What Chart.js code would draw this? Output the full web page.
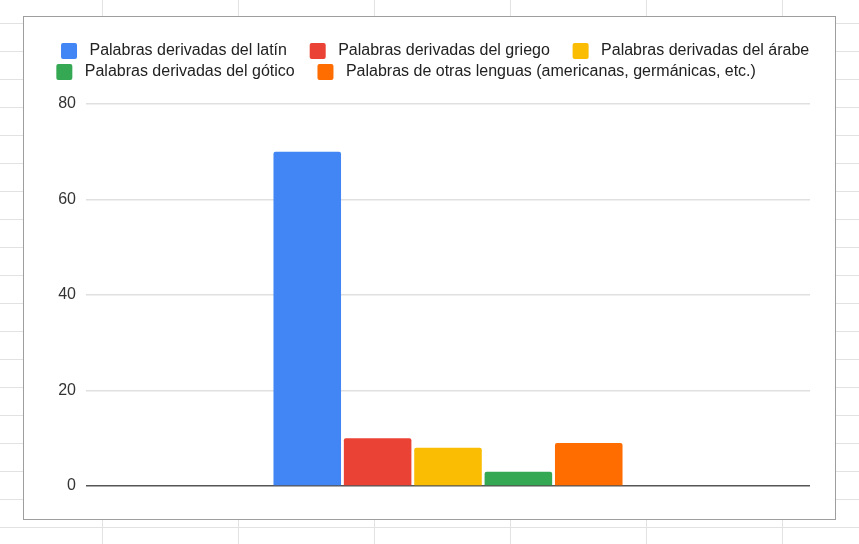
<!DOCTYPE html>
<html>
<head>
<meta charset="utf-8">
<script src="https://cdn.jsdelivr.net/npm/chart.js@4"></script>
<style>
  html, body {
    margin: 0;
    padding: 0;
    width: 859px;
    height: 544px;
    overflow: hidden;
    background-color: #fff;
    /* spreadsheet cells behind the chart */
    background-image:
      linear-gradient(to right, #e2e2e2 1px, transparent 1px),
      linear-gradient(to bottom, #e2e2e2 1px, transparent 1px);
    background-size: 136px 100%, 100% 28px;
    background-position: 102px 0, 0 23px;
  }
  .chartBox {
    position: absolute;
    left: 23px;
    top: 16px;
    width: 811px;
    height: 502px;
    border: 1px solid #9e9e9e;
    background: #fff;
  }
</style>
</head>
<body>
<div class="chartBox">
  <canvas id="wordsChart" width="811" height="502"></canvas>
</div>
<script>
const categories = [''];
const seriesNames = [
    'Palabras derivadas del latín',
    'Palabras derivadas del griego',
    'Palabras derivadas del árabe',
    'Palabras derivadas del gótico',
    'Palabras de otras lenguas (americanas, germánicas, etc.)'
];
const latinValues = [70];
const greekValues = [10];
const arabicValues = [8];
const gothicValues = [3];
const otherValues = [9];
const seriesColors = ['#4285f4', '#ea4335', '#fbbc04', '#34a853', '#ff6d01'];
const yTicks = [0, 20, 40, 60, 80];

const allValues = [latinValues, greekValues, arabicValues, gothicValues, otherValues];
const fontFamily = "'Liberation Sans', Arial, sans-serif";

let datasets = [];
for (let i = 0; i < seriesNames.length; i++) {
    datasets.push({
        label: seriesNames[i],
        data: allValues[i],
        backgroundColor: seriesColors[i],
        borderWidth: 0,
        borderRadius: 2,
        categoryPercentage: 0.486,
        barPercentage: 0.96
    });
}

// push the plot down below the legend, and shift the two legend rows like the original
const legendGap = {
    id: 'legendGap',
    beforeInit(chart) {
        const originalFit = chart.legend.fit;
        chart.legend.fit = function fit() {
            originalFit.bind(chart.legend)();
            this.height += 14;
            if (this.lineWidths && this.lineWidths.length === 2) {
                this.lineWidths[0] -= 29;
                this.lineWidths[1] += 29;
            }
        };
    }
};

const ctx = document.getElementById('wordsChart');
const wordsChart = new Chart(ctx, {
    type: 'bar',
    data: {
        labels: categories,
        datasets: datasets
    },
    options: {
        responsive: false,
        animation: false,
        layout: {
            padding: {top: 21, left: 0, right: 0, bottom: 33}
        },
        plugins: {
            legend: {
                position: 'top',
                labels: {
                    boxWidth: 16,
                    boxHeight: 16,
                    padding: 5,
                    useBorderRadius: true,
                    borderRadius: 2,
                    color: '#222',
                    font: {family: fontFamily, size: 16},
                    generateLabels(chart) {
                        let items = Chart.defaults.plugins.legend.labels.generateLabels(chart);
                        items.forEach(function (it) {
                            it.text = ' ' + it.text + '    ';
                        });
                        return items;
                    }
                }
            },
            tooltip: {enabled: false}
        },
        scales: {
            x: {
                display: false
            },
            y: {
                min: 0,
                max: 80,
                afterFit(scale) {
                    scale.width = 62;
                },
                afterBuildTicks(scale) {
                    scale.ticks = yTicks.map(v => ({value: v}));
                },
                border: {display: false},
                grid: {
                    drawTicks: false,
                    color: c => c.tick.value === 0 ? '#555' : '#e0e0e0',
                    lineWidth: c => c.tick.value === 0 ? 1.6 : 1.4
                },
                ticks: {
                    padding: 10,
                    color: '#333',
                    font: {family: fontFamily, size: 16}
                }
            },
            // empty right axis, only keeps a margin on the right of the plot
            yRight: {
                position: 'right',
                afterFit(scale) {
                    scale.width = 25;
                },
                border: {display: false},
                grid: {display: false},
                ticks: {display: false}
            }
        }
    },
    plugins: [legendGap]
});
</script>
</body>
</html>
